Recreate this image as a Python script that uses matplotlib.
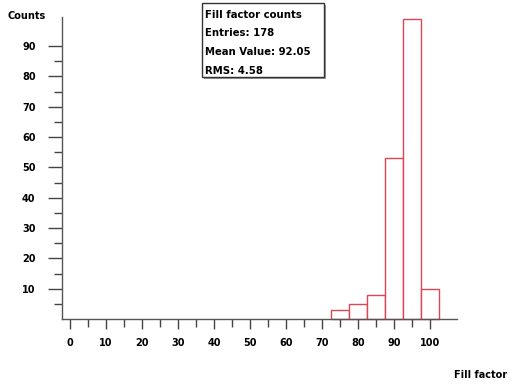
import matplotlib
matplotlib.use("Agg")
import matplotlib.pyplot as plt
from matplotlib.patches import Rectangle
from matplotlib.ticker import FixedLocator

# histogram contents (bin centres, width 5)
bin_centers = [75, 80, 85, 90, 95, 100]
counts = [3, 5, 8, 53, 99, 10]
x_major = list(range(0, 101, 10))
x_minor = list(range(5, 100, 10))
y_major = list(range(10, 100, 10))
y_minor = list(range(5, 90, 10))
stats_lines = ["Fill factor counts", "Entries: 178", "Mean Value: 92.05", "RMS: 4.58"]

W, H = 511, 385
fig = plt.figure(figsize=(W / 100, H / 100), dpi=100)
ax = fig.add_axes([62 / W, 1 - 319 / H, 395 / W, 302 / H])

ax.bar(bin_centers, counts, width=5, facecolor="white", edgecolor="#e04555",
       linewidth=1.0, clip_on=False)

ax.set_xlim(-2.2, 107.5)
ax.set_ylim(0, 99.6)

for s in ["top", "right"]:
    ax.spines[s].set_visible(False)
for s in ["left", "bottom"]:
    ax.spines[s].set_color("#555555")
    ax.spines[s].set_linewidth(1.0)

ax.xaxis.set_major_locator(FixedLocator(x_major))
ax.xaxis.set_minor_locator(FixedLocator(x_minor))
ax.yaxis.set_major_locator(FixedLocator(y_major))
ax.yaxis.set_minor_locator(FixedLocator(y_minor))

ax.tick_params(axis="x", which="major", direction="out", length=7.5, width=1, pad=6, color="#444444")
ax.tick_params(axis="x", which="minor", direction="out", length=6, width=1, color="#444444")
ax.tick_params(axis="y", which="major", direction="out", length=10, width=1, pad=9, color="#444444")
ax.tick_params(axis="y", which="minor", direction="out", length=6, width=1, color="#444444")
for lab in ax.get_xticklabels() + ax.get_yticklabels():
    lab.set_fontsize(7)
    lab.set_fontweight("bold")

fig.text(8 / W, 1 - 16 / H, "Counts", fontsize=7, fontweight="bold", va="center", ha="left")
fig.text(454 / W, 1 - 375 / H, "Fill factor", fontsize=7, fontweight="bold", va="center", ha="left")

# stats box with shadow
bx0, by0, bx1, by1 = 202, 3, 324, 77
fig.add_artist(Rectangle(((bx0 + 2) / W, 1 - (by1 + 2) / H), (bx1 - bx0) / W, (by1 - by0) / H,
                         transform=fig.transFigure, facecolor="#999999", edgecolor="none"))
fig.add_artist(Rectangle((bx0 / W, 1 - by1 / H), (bx1 - bx0) / W, (by1 - by0) / H,
                         transform=fig.transFigure, facecolor="white", edgecolor="#333333",
                         linewidth=1.0))
for i, line in enumerate(stats_lines):
    fig.text(205 / W, 1 - (15 + i * 18.5) / H, line, fontsize=7.3, fontweight="bold",
             va="center", ha="left")

fig.savefig("out.png", dpi=100)
